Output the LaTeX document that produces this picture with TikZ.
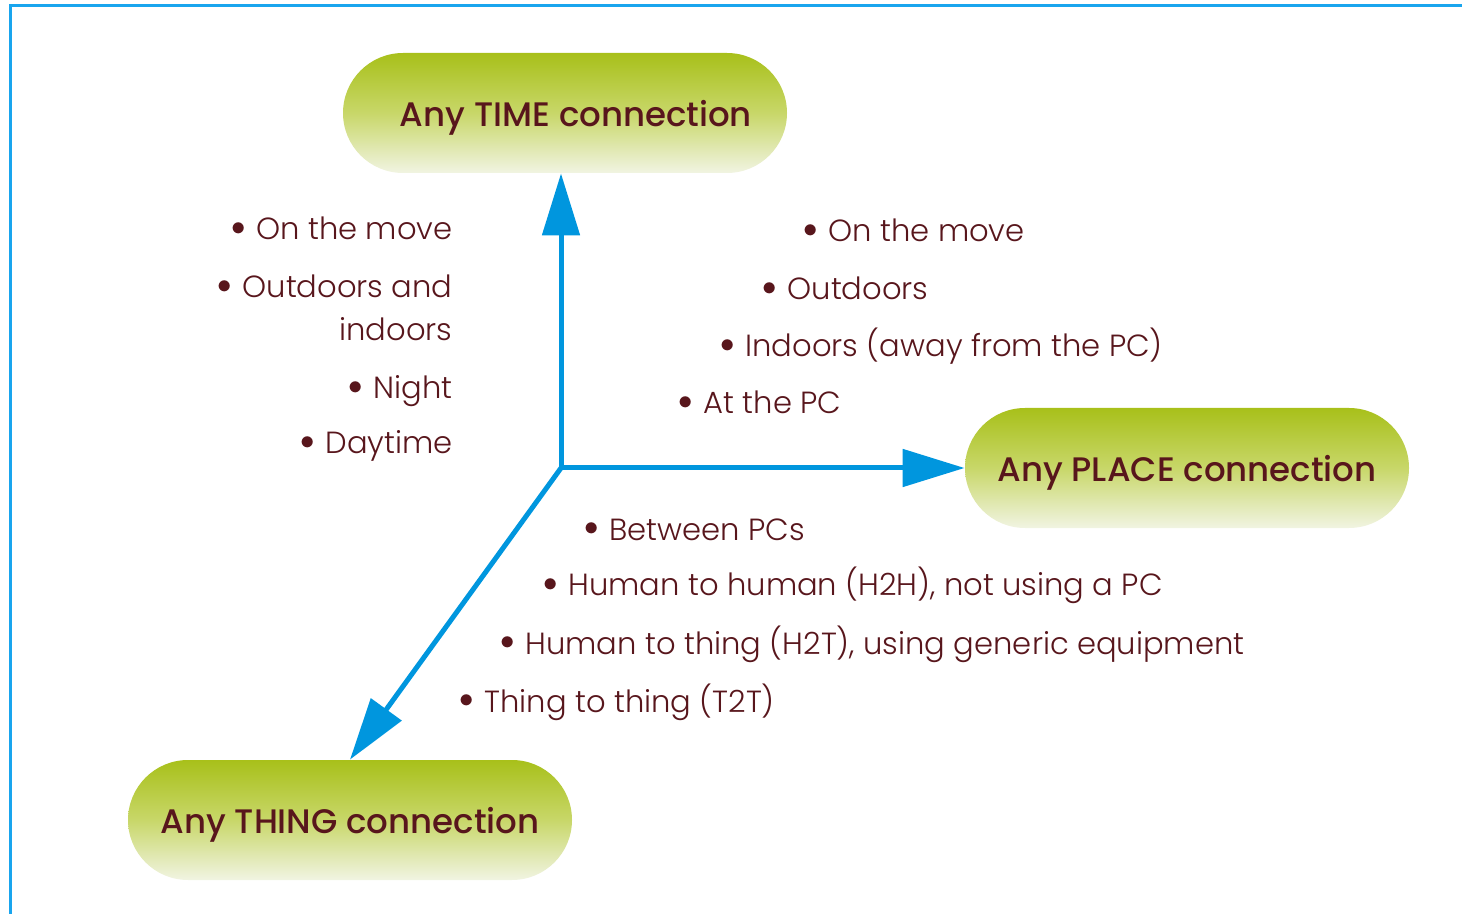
\documentclass[tikz,border=0pt]{standalone}
\usepackage{fontspec}
\setmainfont{Poppins}[UprightFont={* Light}, BoldFont={* Medium}]
\usepackage{xcolor}
\usetikzlibrary{arrows.meta,shapes.misc}
\definecolor{axis-blue}{RGB}{0,150,222}
\definecolor{frame-blue}{RGB}{25,165,238}
\definecolor{pill-top}{RGB}{168,192,26}
\definecolor{pill-mid}{RGB}{200,215,105}
\definecolor{pill-bottom}{RGB}{241,244,226}
\definecolor{maroon-text}{RGB}{88,22,28}
\newcommand{\dotitem}{\raisebox{0.14em}{$\bullet$}\hspace{0.35em}}
\tikzset{
    pill/.style = {rounded rectangle, minimum width=222pt, minimum height=60pt, inner sep=0pt, text depth=0pt, top color=pill-top, bottom color=pill-bottom, middle color=pill-mid, text=maroon-text, font=\fontsize{17}{20}\selectfont\bfseries},
    item/.style = {text=maroon-text, inner sep=0pt, font=\fontsize{15.3}{18}\selectfont},
    axis-arrow/.style = {draw=axis-blue, line width=2.5pt, -{Triangle[length=31pt, width=18.5pt]}},
    frame-line/.style = {draw=frame-blue, line width=1.5pt},
}

\begin{document}
\begin{tikzpicture}[x=0.5pt, y=-0.5pt]
\useasboundingbox (0,0) rectangle (1462,914);
\draw[frame-line] (1470,6) -- (10,6) -- (10,920);

% the three connection pills
\node[pill] (time) at (565,113) {\hspace{11pt}Any TIME connection};
\node[pill] (place) at (1187,468) {Any PLACE connection};
\node[pill] (thing) at (350,820) {Any THING connection\hspace{5pt}};

% axes
\coordinate (origin) at (561,468);
\draw[axis-arrow] (origin) -- (origin |- time.south);
\draw[axis-arrow] (origin) -- (origin -| place.west);
\draw[axis-arrow] (origin) -- (thing.north);

% time items
\node[item, anchor=base east] (time-move) at (453,240) {\dotitem On the move};
\node[item, anchor=base east] (time-out) at (453,298) {\dotitem Outdoors and};
\node[item, anchor=base east] (time-in) at (453,341) {indoors};
\node[item, anchor=base east] (time-night) at (453,399) {\dotitem Night};
\node[item, anchor=base east] (time-day) at (453,454) {\dotitem Daytime};

% place items
\node[item, anchor=base west] (place-move) at (803,242) {\dotitem On the move};
\node[item, anchor=base west] (place-out) at (762,300) {\dotitem Outdoors};
\node[item, anchor=base west] (place-in) at (720,357) {\dotitem Indoors (away from the PC)};
\node[item, anchor=base west] (place-pc) at (678,414) {\dotitem At the PC};

% thing items
\node[item, anchor=base west] (thing-pcs) at (584,540) {\dotitem Between PCs};
\node[item, anchor=base west] (thing-h2h) at (543,596) {\dotitem Human to human (H2H), not using a PC};
\node[item, anchor=base west] (thing-h2t) at (500,654) {\dotitem Human to thing (H2T), using generic equipment};
\node[item, anchor=base west] (thing-t2t) at (459,712) {\dotitem Thing to thing (T2T)};
\end{tikzpicture}
\end{document}
